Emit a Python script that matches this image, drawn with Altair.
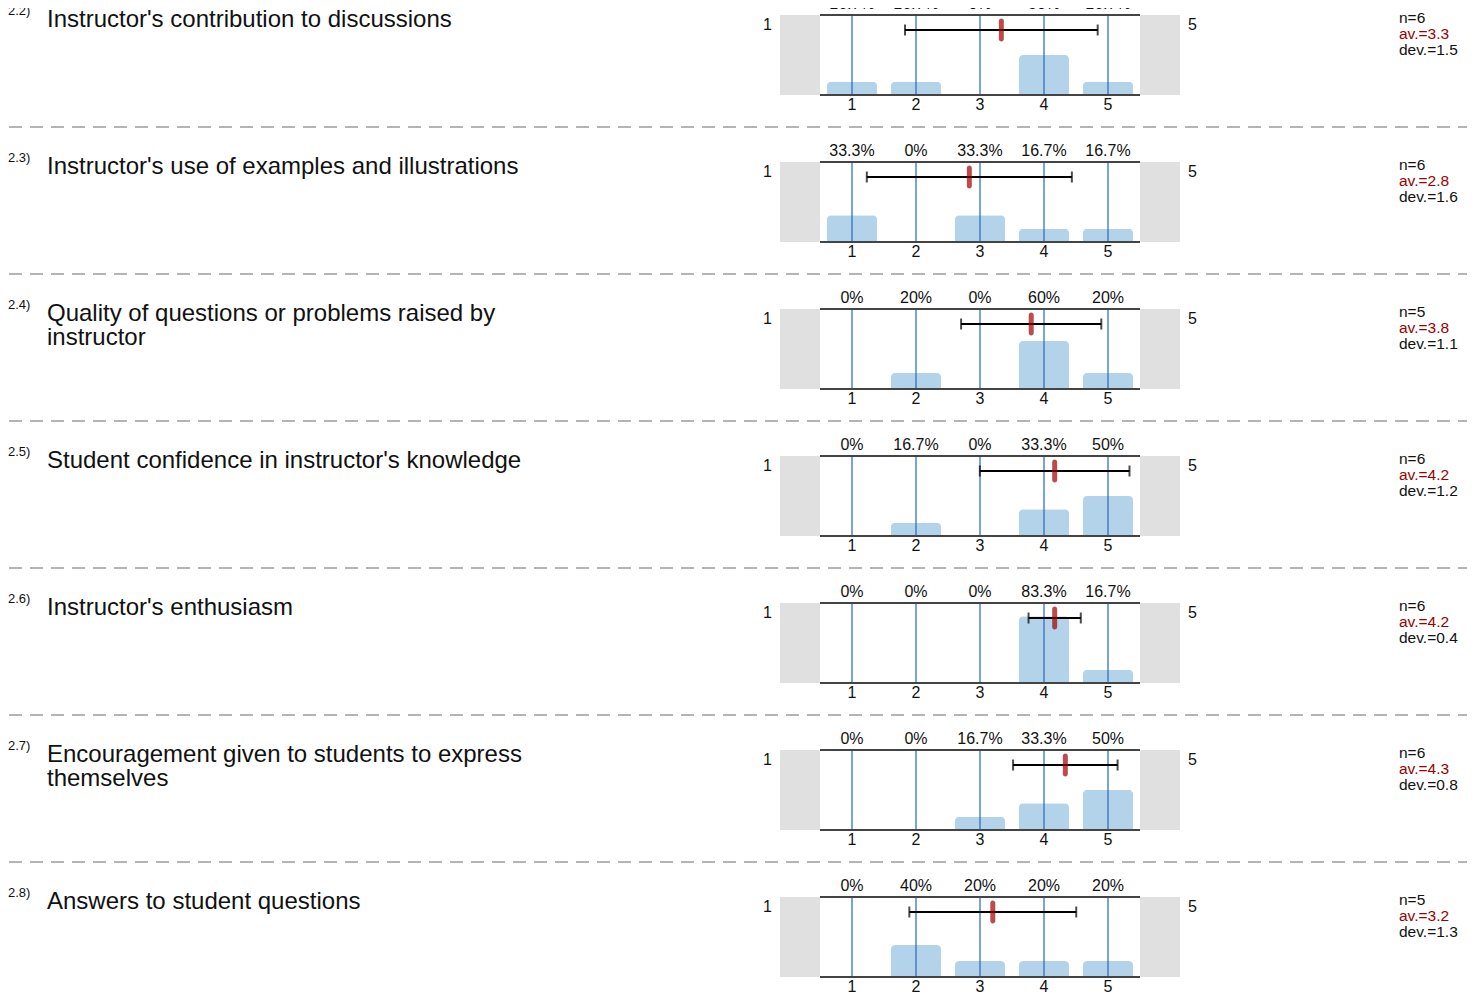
import altair as alt
import pandas as pd

numbers = ["2.2)", "2.3)", "2.4)", "2.5)", "2.6)", "2.7)", "2.8)"]
questions = [
    "Instructor's contribution to discussions",
    "Instructor's use of examples and illustrations",
    "Quality of questions or problems raised by\ninstructor",
    "Student confidence in instructor's knowledge",
    "Instructor's enthusiasm",
    "Encouragement given to students to express\nthemselves",
    "Answers to student questions",
]
categories = [1, 2, 3, 4, 5]
percents = [
    [16.7, 16.7, 0, 50, 16.7],
    [33.3, 0, 33.3, 16.7, 16.7],
    [0, 20, 0, 60, 20],
    [0, 16.7, 0, 33.3, 50],
    [0, 0, 0, 83.3, 16.7],
    [0, 0, 16.7, 33.3, 50],
    [0, 40, 20, 20, 20],
]
n_values = [6, 6, 5, 6, 6, 6, 5]
averages = [3.3, 2.8, 3.8, 4.2, 4.2, 4.3, 3.2]
deviations = [1.5, 1.6, 1.1, 1.2, 0.4, 0.8, 1.3]

FONT = "Liberation Sans"
W = 1460
ROW_H = 146.67
T_IN = 7
PX = 64.0
x0 = 1 - 844 / PX

xs = alt.Scale(domain=[x0, x0 + W / PX], nice=False, zero=False, padding=0)
ys = alt.Scale(domain=[0, 100], range=[T_IN + 80, T_IN], nice=False, zero=False, padding=0)


def X(f):
    return alt.X(f, type="quantitative", scale=xs, axis=None)


def YD(v):
    return alt.Y(datum=v, type="quantitative", scale=ys, axis=None)


def XD(v):
    return alt.X(datum=v, type="quantitative", scale=xs, axis=None)


def stats(i):
    # exact mean / sample deviation from the answer counts behind the percentages
    counts = [round(p * n_values[i] / 100) for p in percents[i]]
    n = sum(counts)
    mean = sum(c * k for c, k in zip(categories, counts)) / n
    var = sum(k * (c - mean) ** 2 for c, k in zip(categories, counts)) / (n - 1)
    return mean, var ** 0.5


def row_chart(i):
    first = i == 0
    mean, sd = stats(i)
    bars = pd.DataFrame({
        "cat": categories,
        "pct": percents[i],
        "label": [f"{p:g}%" for p in percents[i]],
    })
    one = pd.DataFrame({
        "num": [numbers[i]],
        "q": [questions[i]],
        "n": [f"n={n_values[i]}"],
        "av": [f"av.={averages[i]:.1f}"],
        "dev": [f"dev.={deviations[i]:.1f}"],
        "mean": [mean],
        "lo": [mean - sd],
        "hi": [mean + sd],
    })
    base_one = alt.Chart(one)
    base_bars = alt.Chart(bars)

    layers = []
    # gray side boxes
    layers.append(base_one.mark_rect(color="#e0e0e0").encode(
        x=XD(-0.125), x2=alt.X2(datum=0.5), y=YD(0), y2=alt.Y2(datum=100)))
    layers.append(base_one.mark_rect(color="#e0e0e0").encode(
        x=XD(5.5), x2=alt.X2(datum=6.125), y=YD(0), y2=alt.Y2(datum=100)))
    # bars
    layers.append(base_bars.mark_bar(
        orient="vertical", size=50, color="#b3d3ea",
        cornerRadiusTopLeft=4, cornerRadiusTopRight=4,
    ).encode(x=X("cat"), y=alt.Y("pct", type="quantitative", scale=ys, axis=None)))
    # blue category lines
    layers.append(base_bars.mark_rule(color="#2369b3", strokeWidth=1.2).encode(
        x=X("cat"), y=YD(0), y2=alt.Y2(datum=100)))
    # top and bottom frame lines
    for yv in (0, 100):
        layers.append(base_one.mark_rule(color="#444444", strokeWidth=2).encode(
            x=XD(0.5), x2=alt.X2(datum=5.5), y=YD(yv)))
    # percentage labels
    layers.append(base_bars.mark_text(
        font=FONT, fontSize=16, color="#111111", baseline="middle", dy=-11, clip=first,
    ).encode(x=X("cat"), y=YD(100), text="label:N"))
    # category labels
    layers.append(base_bars.mark_text(
        font=FONT, fontSize=16, color="#111111", baseline="middle", dy=10,
    ).encode(x=X("cat"), y=YD(0), text="cat:N"))
    # side labels
    layers.append(base_one.mark_text(
        font=FONT, fontSize=16, color="#111111", baseline="middle", align="right", dx=-8, dy=10,
    ).encode(x=XD(-0.125), y=YD(100), text=alt.value(str(categories[0]))))
    layers.append(base_one.mark_text(
        font=FONT, fontSize=16, color="#111111", baseline="middle", align="left", dx=8, dy=10,
    ).encode(x=XD(6.125), y=YD(100), text=alt.value(str(categories[-1]))))
    # error bar
    layers.append(base_one.mark_rule(color="#000000", strokeWidth=2, yOffset=15).encode(
        x=X("lo"), x2="hi", y=YD(100)))
    for f in ("lo", "hi"):
        layers.append(base_one.mark_tick(
            color="#000000", orient="vertical", size=11, thickness=2, yOffset=15,
        ).encode(x=X(f), y=YD(100)))
    # mean marker
    layers.append(base_one.mark_tick(
        color="#9e0000", orient="vertical", size=23, thickness=5, cornerRadius=2.5, yOffset=15,
    ).encode(x=X("mean"), y=YD(100)))
    # question number and text
    layers.append(base_one.mark_text(
        font=FONT, fontSize=13, color="#111111", align="left", baseline="middle", dy=-4, clip=first,
    ).encode(x=alt.value(0), y=YD(100), text="num:N"))
    layers.append(base_one.mark_text(
        font=FONT, fontSize=24, color="#111111", align="left", baseline="alphabetic",
        dy=12, lineBreak="\n", lineHeight=24, clip=first,
    ).encode(x=alt.value(39), y=YD(100), text="q:N"))
    # stats
    for f, col, dy in (("n", "#111111", 3), ("av", "#990000", 19), ("dev", "#111111", 35)):
        layers.append(base_one.mark_text(
            font=FONT, fontSize=15.5, color=col, align="left", baseline="middle", dy=dy,
        ).encode(x=alt.value(1391), y=YD(100), text=f"{f}:N"))
    # separator
    if i < len(questions) - 1:
        layers.append(base_one.mark_rule(
            color="#b4b4b4", strokeWidth=2, strokeDash=[13, 8], yOffset=32,
        ).encode(x=alt.value(1), x2=alt.value(W - 1), y=YD(0)))

    return alt.layer(*layers).properties(width=W, height=ROW_H)


chart = alt.vconcat(
    *[row_chart(i) for i in range(len(questions))],
    spacing=0, bounds="flush",
).properties(padding=0).configure(font=FONT).configure_view(stroke=None)

chart.save("out.html", embed_options={"renderer": "svg", "actions": False})
